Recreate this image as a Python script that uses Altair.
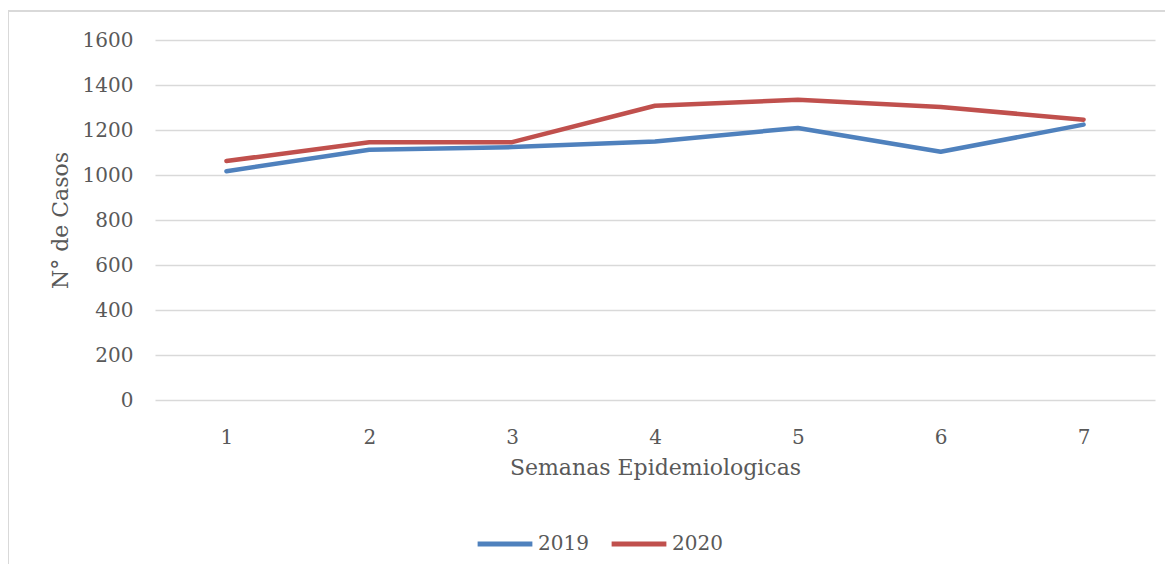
import altair as alt
import pandas as pd

weeks = [1, 2, 3, 4, 5, 6, 7]
cases_2019 = [1017, 1112, 1124, 1149, 1209, 1103, 1224]
cases_2020 = [1062, 1146, 1146, 1308, 1334, 1302, 1246]
series = ["2019", "2020"]
colors = ["#4F81BD", "#C0504D"]
y_ticks = [0, 200, 400, 600, 800, 1000, 1200, 1400, 1600]

rows = []
for w, a, b in zip(weeks, cases_2019, cases_2020):
    rows.append({"Semana": w, "Serie": "2019", "Casos": a})
    rows.append({"Semana": w, "Serie": "2020", "Casos": b})
df = pd.DataFrame(rows)

FONT = "DejaVu Serif"
TXT = "#595959"
FS = 20
TFS = 22

lines = alt.Chart(df).mark_line(strokeWidth=4.5, strokeCap="round", strokeJoin="round").encode(
    x=alt.X("Semana:O", scale=alt.Scale(type="point", padding=0.5),
            axis=alt.Axis(title="Semanas Epidemiologicas", labelAngle=0, ticks=False, domain=False,
                          grid=False, labelPadding=27, titlePadding=10,
                          labelFont=FONT, titleFont=FONT, labelFontSize=FS, titleFontSize=TFS,
                          labelColor=TXT, titleColor=TXT, titleFontWeight="normal")),
    y=alt.Y("Casos:Q", scale=alt.Scale(domain=[0, 1600], nice=False),
            axis=alt.Axis(title="N° de Casos", values=y_ticks, format="d", ticks=False, domain=False,
                          labelPadding=22, titlePadding=10, gridColor="#d9d9d9", gridWidth=1.5,
                          labelFont=FONT, titleFont=FONT, labelFontSize=FS, titleFontSize=TFS,
                          labelColor=TXT, titleColor=TXT, titleFontWeight="normal")),
    color=alt.Color("Serie:N", scale=alt.Scale(domain=series, range=colors),
                    legend=alt.Legend(title=None, orient="none", direction="horizontal",
                                      legendX=320, legendY=474, symbolType="stroke",
                                      symbolSize=3000, symbolStrokeWidth=5,
                                      labelFontSize=FS, labelColor=TXT, labelFont=FONT,
                                      labelOffset=3, columnPadding=12)),
)

border = alt.Chart(pd.DataFrame({"k": [0]})).mark_rect(fill=None, stroke="#d9d9d9", strokeWidth=2).encode(
    x=alt.value(-147), x2=alt.value(1040), y=alt.value(-29), y2=alt.value(600)
)

chart = alt.layer(border, lines).properties(
    width=1000, height=360,
    autosize=alt.AutoSizeParams(type="none"),
    padding={"left": 147, "top": 32, "right": 10, "bottom": 164},
).configure_view(stroke=None)

chart.save("out.html", embed_options={"renderer": "svg", "actions": False})
